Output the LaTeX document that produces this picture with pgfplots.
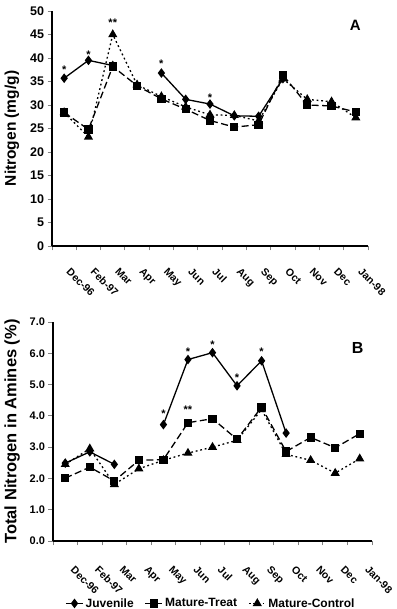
\documentclass[border=0pt]{standalone}
\usepackage{fontspec}
\setmainfont{Liberation Sans}
\usepackage{pgfplots}
\pgfplotsset{compat=1.18}
\begin{document}
\begin{tikzpicture}
\path[use as bounding box] (0pt,0pt) rectangle (396pt,609pt);
\pgfplotsset{
  common/.style={
    scale only axis,
    axis lines=left,
    axis line style={-, line width=1.1pt},
    xmin=-0.5, xmax=12.5,
    xtick={0,...,12},
    xticklabels={Dec-96,Feb-97,Mar,Apr,May,Jun,Jul,Aug,Sep,Oct,Nov,Dec,Jan-98},
    major x tick style={draw=none},
    minor xtick={-0.5,0.5,...,12.5},
    minor tick length=4.5pt,
    minor x tick style={line width=0.9pt},
    major tick length=4.5pt,
    tick align=outside,
    ytick style={line width=0.9pt},
    /pgf/number format/assume math mode=true,
    unbounded coords=jump,
    every axis plot/.append style={line width=1.3pt, black},
  },
  juv/.style={solid, mark=diamond*, mark size=3.8pt, mark options={solid, fill=black}},
  trt/.style={dash pattern=on 7pt off 3.5pt, mark=square*, mark size=3.5pt, mark options={solid, fill=black}},
  ctl/.style={dash pattern=on 1.8pt off 2.8pt, mark=triangle*, mark size=4pt, mark options={solid, fill=black}},
}
\begin{axis}[common,
  at={(52pt,363pt)}, anchor=south west,
  width=316pt, height=235pt,
  ymin=0, ymax=50, ytick={0,5,...,50},
  xticklabel style={xshift=7pt, yshift=-12pt, rotate=-45, anchor=north west, font=\fontsize{10.5}{11}\selectfont\bfseries},
  yticklabel style={font=\fontsize{12.5}{13}\selectfont\bfseries},
  ylabel={Nitrogen (mg/g)},
  ylabel style={font=\fontsize{15.5}{16}\selectfont\bfseries, yshift=4pt},
]
\addplot[ctl] coordinates {(0,28.4)(1,23.2)(2,45.0)(3,34.3)(4,31.8)(5,29.6)(6,27.9)(7,27.8)(8,26.6)(9,35.6)(10,31.2)(11,30.7)(12,27.3)};
\addplot[trt] coordinates {(0,28.4)(1,24.8)(2,38.2)(3,34.1)(4,31.3)(5,29.1)(6,26.7)(7,25.3)(8,25.8)(9,36.4)(10,30.0)(11,29.8)(12,28.5)};
\addplot[juv] coordinates {(0,35.7)(1,39.5)(2,38.4)(3,nan)(4,36.8)(5,31.2)(6,30.2)(7,27.7)(8,27.6)(9,35.6)};
\node[font=\fontsize{11}{11}\selectfont\bfseries] at (axis cs:0,37.5) {*};
\node[font=\fontsize{11}{11}\selectfont\bfseries] at (axis cs:1,40.6) {*};
\node[font=\fontsize{11}{11}\selectfont\bfseries] at (axis cs:2,47.6) {**};
\node[font=\fontsize{11}{11}\selectfont\bfseries] at (axis cs:4,38.7) {*};
\node[font=\fontsize{11}{11}\selectfont\bfseries] at (axis cs:6,31.5) {*};
\node[font=\fontsize{15}{15}\selectfont\bfseries] at (rel axis cs:0.96,0.94) {A};
\end{axis}
\begin{axis}[common,
  at={(53pt,68pt)}, anchor=south west,
  width=319pt, height=219pt,
  ymin=0, ymax=7, ytick={0,1,...,7},
  yticklabel={\pgfmathprintnumber[fixed,precision=1,zerofill]{\tick}},
  yticklabel style={font=\fontsize{11}{12}\selectfont\bfseries},
  ylabel={Total Nitrogen in Amines (\%)},
  ylabel style={font=\fontsize{16.5}{17}\selectfont\bfseries, yshift=3pt},
  xticklabel style={xshift=10pt, yshift=-15pt, rotate=-45, anchor=north west, font=\fontsize{10.5}{11}\selectfont\bfseries},
  legend columns=3,
  legend style={at={(0.495,-0.285)}, anchor=center, draw=none, fill=none,
    font=\fontsize{12}{12}\selectfont\bfseries,
    /tikz/every even column/.append style={column sep=9pt}},
  legend cell align=left,
  reverse legend,
]
\addplot[ctl] coordinates {(0,2.45)(1,2.95)(2,1.81)(3,2.31)(4,2.58)(5,2.81)(6,3.0)(7,3.22)(8,4.2)(9,2.77)(10,2.58)(11,2.17)(12,2.63)};
\addlegendentry{Mature-Control}
\addplot[trt] coordinates {(0,2.01)(1,2.36)(2,1.92)(3,2.58)(4,2.60)(5,3.78)(6,3.91)(7,3.25)(8,4.28)(9,2.86)(10,3.31)(11,2.98)(12,3.43)};
\addlegendentry{Mature-Treat}
\addplot[juv] coordinates {(0,2.49)(1,2.85)(2,2.45)(3,nan)(4,3.72)(5,5.80)(6,6.02)(7,4.96)(8,5.76)(9,3.45)};
\addlegendentry{Juvenile}
\node[font=\fontsize{11}{11}\selectfont\bfseries] at (axis cs:4,4.08) {*};
\node[font=\fontsize{11}{11}\selectfont\bfseries] at (axis cs:5,6.05) {*};
\node[font=\fontsize{11}{11}\selectfont\bfseries] at (axis cs:6,6.27) {*};
\node[font=\fontsize{11}{11}\selectfont\bfseries] at (axis cs:7,5.23) {*};
\node[font=\fontsize{11}{11}\selectfont\bfseries] at (axis cs:8,6.06) {*};
\node[font=\fontsize{11}{11}\selectfont\bfseries] at (axis cs:5,4.2) {**};
\node[font=\fontsize{16}{16}\selectfont\bfseries] at (rel axis cs:0.955,0.88) {B};
\end{axis}
\end{tikzpicture}
\end{document}
